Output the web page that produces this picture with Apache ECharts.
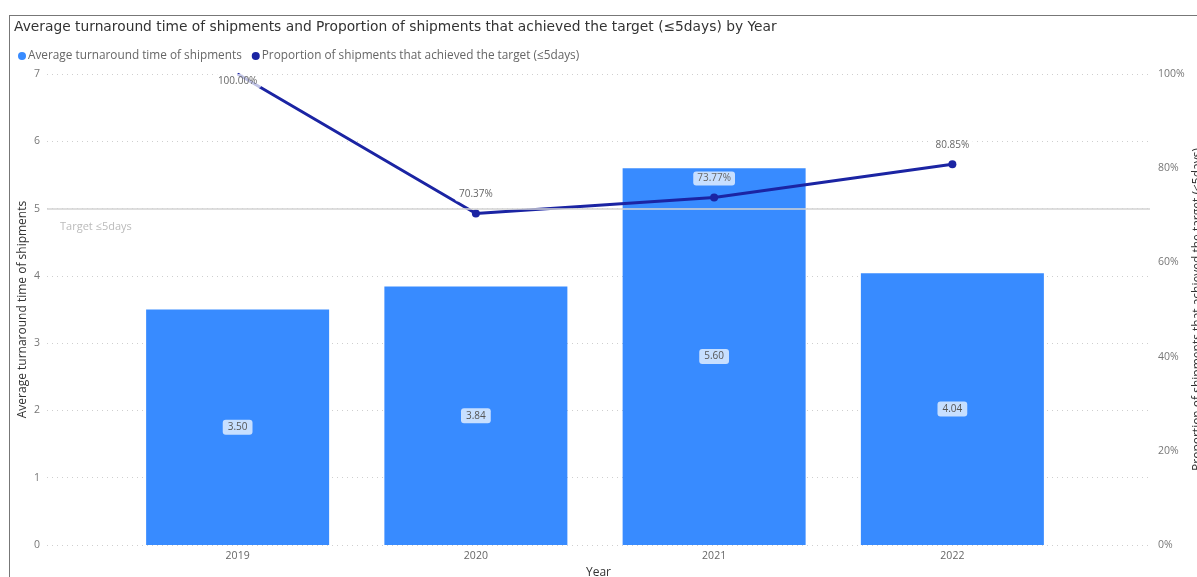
<!DOCTYPE html>
<html>
<head>
<meta charset="utf-8">
<script src="https://cdn.jsdelivr.net/npm/echarts@6/dist/echarts.min.js"></script>
<style>
html,body{margin:0;padding:0;background:#fff;}
#chart{width:1197px;height:577px;}
</style>
</head>
<body>
<div id="chart"></div>
<script>
const years = ['2019', '2020', '2021', '2022'];
const avgTurnaround = [3.50, 3.84, 5.60, 4.04];
const proportionAchieved = [100.00, 70.37, 73.77, 80.85];
const leftMax = 7;
const leftInterval = 1;
const rightMax = 100;
const rightInterval = 20;
const targetDays = 5;
const targetLabel = 'Target \u22645days';
const barName = 'Average turnaround time of shipments';
const lineName = 'Proportion of shipments that achieved the target (\u22645days)';
const titleText = 'Average turnaround time of shipments and Proportion of shipments that achieved the target (\u22645days) by Year';

const FONT = 'Open Sans';
const chart = echarts.init(document.getElementById('chart'));

const lineData = proportionAchieved.map((v, i) => i === 0
  ? { value: v, symbolSize: 1, label: { position: 'inside', offset: [0, 7] } }
  : v);

const option = {
  animation: false,
  backgroundColor: '#fff',
  textStyle: { fontFamily: FONT },
  title: {
    text: titleText,
    left: 9, top: 15,
    textStyle: { fontFamily: 'DejaVu Sans', fontSize: 13.8, fontWeight: 'normal', color: '#333' }
  },
  legend: {
    data: [barName, lineName],
    left: 13, top: 45,
    icon: 'circle', itemWidth: 8, itemHeight: 8, itemGap: 10,
    textStyle: { fontFamily: FONT, fontSize: 11.8, color: '#666', padding: [0, 0, 0, -3] }
  },
  graphic: [
    { type: 'line', shape: { x1: 9.5, y1: 15, x2: 9.5, y2: 577 }, style: { stroke: '#777', lineWidth: 1 } },
    { type: 'line', shape: { x1: 9, y1: 15.5, x2: 1197, y2: 15.5 }, style: { stroke: '#777', lineWidth: 1 } }
  ],
  grid: [
    { left: 47, right: 47, top: 74, bottom: 32, outerBoundsMode: 'none', containLabel: false },
    { left: 118.5, right: 125.5, top: 74, bottom: 32, outerBoundsMode: 'none', containLabel: false }
  ],
  xAxis: [
    {
      gridIndex: 0, type: 'value', min: 0, max: 1, show: true,
      axisLine: { show: false }, axisTick: { show: false }, axisLabel: { show: false }, splitLine: { show: false },
      name: 'Year', nameLocation: 'middle', nameGap: 22, nameMoveOverlap: false,
      nameTextStyle: { fontFamily: FONT, fontSize: 12, color: '#333' }
    },
    {
      gridIndex: 1, type: 'category', data: years,
      axisLine: { show: false }, axisTick: { show: false },
      axisLabel: { fontFamily: FONT, fontSize: 10.5, color: '#666', margin: 6 }
    }
  ],
  yAxis: [
    {
      gridIndex: 0, type: 'value', min: 0, max: leftMax, interval: leftInterval,
      axisLine: { show: false }, axisTick: { show: false },
      axisLabel: { fontFamily: FONT, fontSize: 10.5, color: '#777', margin: 7 },
      splitLine: { show: true, lineStyle: { color: '#cfcfcf', type: [1, 4], width: 1 } },
      name: barName, nameLocation: 'middle', nameGap: 18, nameMoveOverlap: false,
      nameTextStyle: { fontFamily: FONT, fontSize: 12, color: '#333' }
    },
    {
      gridIndex: 0, type: 'value', position: 'right', min: 0, max: rightMax, interval: rightInterval,
      axisLine: { show: false }, axisTick: { show: false },
      axisLabel: { fontFamily: FONT, fontSize: 10.5, color: '#777', margin: 8, formatter: '{value}%' },
      splitLine: { show: false },
      name: lineName, nameLocation: 'middle', nameGap: 42, nameRotate: 90, nameMoveOverlap: false,
      nameTextStyle: { fontFamily: FONT, fontSize: 12, color: '#333' }
    },
    { gridIndex: 1, type: 'value', min: 0, max: leftMax, show: false },
    { gridIndex: 1, type: 'value', min: 0, max: rightMax, show: false }
  ],
  series: [
    {
      name: 'target', type: 'line', xAxisIndex: 0, yAxisIndex: 0, data: [],
      silent: true,
      markLine: {
        symbol: 'none', silent: true,
        lineStyle: { color: '#d3d3d3', type: 'solid', width: 1.5 },
        label: {
          show: true, position: 'insideStartBottom', formatter: targetLabel,
          fontFamily: FONT, fontSize: 11, color: '#bbb', distance: [13, 13]
        },
        data: [{ yAxis: targetDays }]
      }
    },
    {
      name: barName, type: 'bar', xAxisIndex: 1, yAxisIndex: 2,
      data: avgTurnaround, barWidth: 183,
      itemStyle: { color: '#388BFF' },
      label: {
        show: true, position: 'inside', formatter: p => p.value.toFixed(2),
        fontFamily: FONT, fontSize: 10, color: '#555',
        backgroundColor: 'rgba(255,255,255,0.72)', borderRadius: 3, padding: [3, 5, 2, 5]
      }
    },
    {
      name: lineName, type: 'line', xAxisIndex: 1, yAxisIndex: 3,
      data: lineData, symbol: 'circle', symbolSize: 8,
      itemStyle: { color: '#1B24A3' },
      lineStyle: { color: '#1B24A3', width: 3 },
      label: {
        show: true, position: 'top', distance: 8,
        formatter: p => Number(p.value).toFixed(2) + '%',
        fontFamily: FONT, fontSize: 10, color: '#666',
        backgroundColor: 'rgba(255,255,255,0.72)', borderRadius: 3, padding: [2, 4]
      }
    }
  ]
};
chart.setOption(option);
</script>
</body>
</html>
